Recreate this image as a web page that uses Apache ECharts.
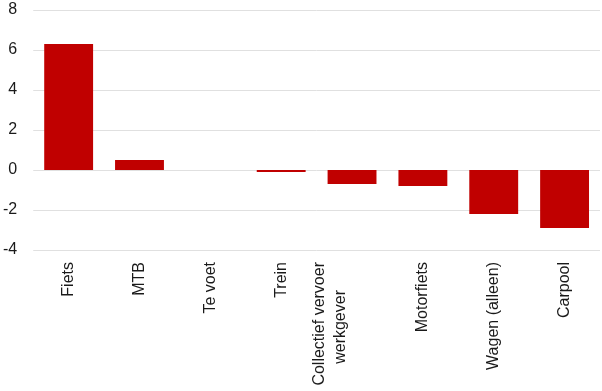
<!DOCTYPE html>
<html><head><meta charset="utf-8">
<script src="https://cdn.jsdelivr.net/npm/echarts@6/dist/echarts.min.js"></script>
<style>html,body{margin:0;padding:0;background:#fff}#c{width:602px;height:391px}</style>
</head><body><div id="c"></div>
<script>
const categories = ['Fiets', 'MTB', 'Te voet', 'Trein', 'Collectief vervoer\nwerkgever', 'Motorfiets', 'Wagen (alleen)', 'Carpool'];
const values = [6.3, 0.5, 0, -0.1, -0.7, -0.8, -2.2, -2.9];
const yTicks = [-4, -2, 0, 2, 4, 6, 8];

const FONT = '"Liberation Sans", Arial, sans-serif';
const catData = categories.map(function (c) {
  return c.indexOf('\n') >= 0 ? { value: c, textStyle: { padding: [0, 0, 44, 0] } } : c;
});
const chart = echarts.init(document.getElementById('c'));
chart.setOption({
  animation: false,
  grid: { left: 32, right: 2, top: 10, bottom: 141 },
  xAxis: {
    type: 'category',
    data: catData,
    axisLine: { show: false },
    axisTick: { show: false },
    axisLabel: {
      rotate: 90,
      interval: 0,
      margin: 12,
      fontFamily: FONT,
      fontSize: 16,
      color: '#1a1a1a',
      formatter: function (v) {
        const lines = v.split('\n');
        if (lines.length === 1) return v;
        return '{a|' + lines[0] + '}\n{b|' + lines[1] + '}';
      },
      rich: {
        a: { fontFamily: FONT, fontSize: 16, color: '#1a1a1a', lineHeight: 21 },
        b: { fontFamily: FONT, fontSize: 16, color: '#1a1a1a', lineHeight: 21, padding: [0, 28, 0, 0] }
      }
    }
  },
  yAxis: {
    type: 'value',
    min: yTicks[0],
    max: yTicks[yTicks.length - 1],
    interval: 2,
    axisLine: { show: false },
    axisTick: { show: false },
    splitLine: { lineStyle: { color: '#e0e0e0', width: 1 } },
    axisLabel: { margin: 16, fontFamily: FONT, fontSize: 16, color: '#1a1a1a' }
  },
  series: [{
    type: 'bar',
    data: values,
    barWidth: '69%',
    itemStyle: { color: '#C00000' }
  }]
});
</script>
</body></html>
